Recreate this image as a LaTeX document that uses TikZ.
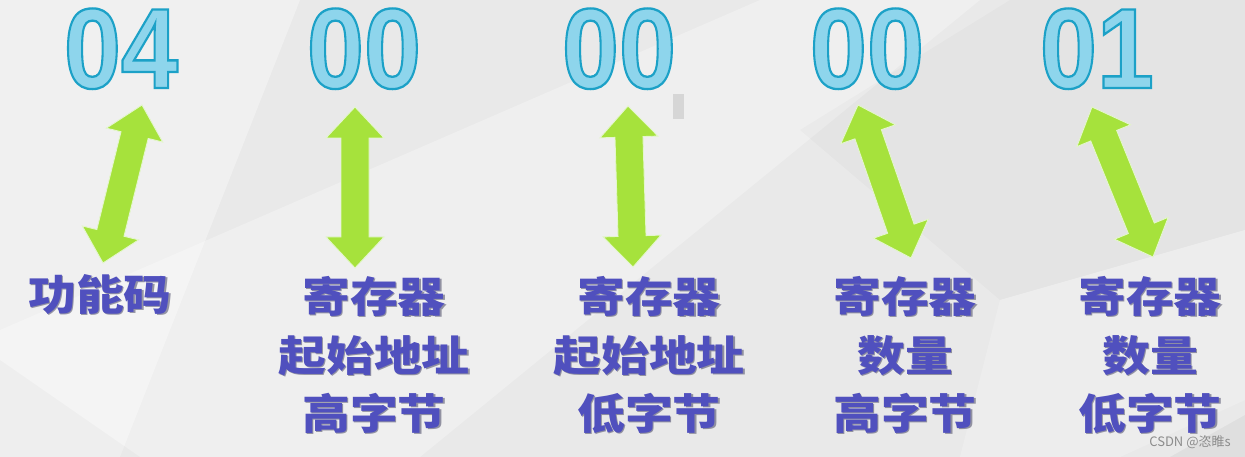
\documentclass[tikz,border=0pt]{standalone}
\usepackage{fontspec}
\setmainfont{Liberation Sans}
\newfontfamily\cjk{Noto Sans CJK SC}
\newfontfamily\digitfont{Liberation Sans}
\usetikzlibrary{calc}
\definecolor{numfill}{RGB}{142,213,236}
\definecolor{arrgreen}{RGB}{166,226,60}
\definecolor{arredge}{RGB}{228,246,205}
\definecolor{lblcol}{RGB}{80,80,190}
\definecolor{lblshade}{RGB}{70,70,100}
\definecolor{bgbase}{RGB}{233,233,233}
\newcommand\outlined[1]{\special{pdf:literal direct 2 Tr 2.3 w 0.11 0.63 0.78 RG}#1\special{pdf:literal direct 0 Tr}}
\newcommand\dblarrow[2]{%
  \filldraw[arrowstyle] (#1)
    -- ($(#1)!31pt!(#2)!29pt!90:(#2)$)
    -- ($(#1)!31pt!(#2)!14pt!90:(#2)$)
    -- ($(#2)!31pt!(#1)!14pt!-90:(#1)$)
    -- ($(#2)!31pt!(#1)!29pt!-90:(#1)$)
    -- (#2)
    -- ($(#2)!31pt!(#1)!29pt!90:(#1)$)
    -- ($(#2)!31pt!(#1)!14pt!90:(#1)$)
    -- ($(#1)!31pt!(#2)!14pt!-90:(#2)$)
    -- ($(#1)!31pt!(#2)!29pt!-90:(#2)$)
    -- cycle;}
\newcommand\lbl[4]{%
  \node[lbl, text=lblshade, opacity=0.55] (#1s) at (#2+1.6,#3+1.6) {\scalebox{1.14}[1]{#4}};
  \node[lbl] (#1) at (#2,#3) {\scalebox{1.14}[1]{#4}};}
\begin{document}
\begin{tikzpicture}[x=1pt,y=-1pt,
  num/.style={anchor=base, inner sep=0pt, text height=80pt, text depth=0pt, font=\digitfont\bfseries\fontsize{114}{114}\selectfont, text=numfill},
  lbl/.style={anchor=base, inner sep=0pt, font=\cjk\bfseries\fontsize{42}{42}\selectfont, text=lblcol},
  arrowstyle/.style={fill=arrgreen, draw=arredge, line width=0.9pt, line join=miter},
  facet/.style={draw=none}]
% background
\fill[bgbase] (0,0) rectangle (1245,457);
\useasboundingbox (0,0) rectangle (1245,457);
\fill[facet, white, opacity=0.35] (0,0) -- (300,0) -- (120,457) -- (0,457) -- cycle;
\fill[facet, white, opacity=0.28] (0,330) -- (760,0) -- (980,0) -- (420,457) -- (0,457) -- cycle;
\fill[facet, black, opacity=0.025] (0,360) -- (140,457) -- (0,457) -- cycle;
\fill[facet, black, opacity=0.02] (800,130) -- (1010,0) -- (1245,0) -- (1245,230) -- (1000,300) -- cycle;
\fill[facet, white, opacity=0.22] (1000,300) -- (1245,230) -- (1245,400) -- (1120,457) -- (960,457) -- cycle;
\fill[facet, black, opacity=0.04] (1170,457) -- (1245,415) -- (1245,457) -- cycle;
\fill[black!16] (673,94) rectangle (684,119);
% numbers
\node[num] (n1) at (121,88) {\scalebox{0.9}[1]{\outlined{04}}};
\node[num] (n2) at (364,88) {\scalebox{0.9}[1]{\outlined{00}}};
\node[num] (n3) at (619,88) {\scalebox{0.9}[1]{\outlined{00}}};
\node[num] (n4) at (867,88) {\scalebox{0.9}[1]{\outlined{00}}};
\node[num] (n5) at (1097,88) {\scalebox{0.9}[1]{\outlined{01}}};
% arrows
\coordinate (a1t) at (142,105); \coordinate (a1b) at (103,263);
\coordinate (a2t) at (355,107); \coordinate (a2b) at (355,268);
\coordinate (a3t) at (628,106); \coordinate (a3b) at (633,267);
\coordinate (a4t) at (858,105); \coordinate (a4b) at (911,258);
\coordinate (a5t) at (1092,107); \coordinate (a5b) at (1153,257);
\dblarrow{a1t}{a1b}
\dblarrow{a2t}{a2b}
\dblarrow{a3t}{a3b}
\dblarrow{a4t}{a4b}
\dblarrow{a5t}{a5b}
% labels
\lbl{l1a}{100}{310}{功能码}
\lbl{l2a}{374}{312}{寄存器}
\lbl{l2b}{374}{371}{起始地址}
\lbl{l2c}{374}{429}{高字节}
\lbl{l3a}{649}{312}{寄存器}
\lbl{l3b}{649}{371}{起始地址}
\lbl{l3c}{649}{429}{低字节}
\lbl{l4a}{905}{312}{寄存器}
\lbl{l4b}{905}{371}{数量}
\lbl{l4c}{905}{429}{高字节}
\lbl{l5a}{1150}{312}{寄存器}
\lbl{l5b}{1150}{371}{数量}
\lbl{l5c}{1150}{429}{低字节}
% watermark
\node[anchor=base, inner sep=0pt, font=\cjk\fontsize{13}{13}\selectfont, text=black!45] (wm) at (1190,446) {CSDN @恣睢s};
\end{tikzpicture}
\end{document}
